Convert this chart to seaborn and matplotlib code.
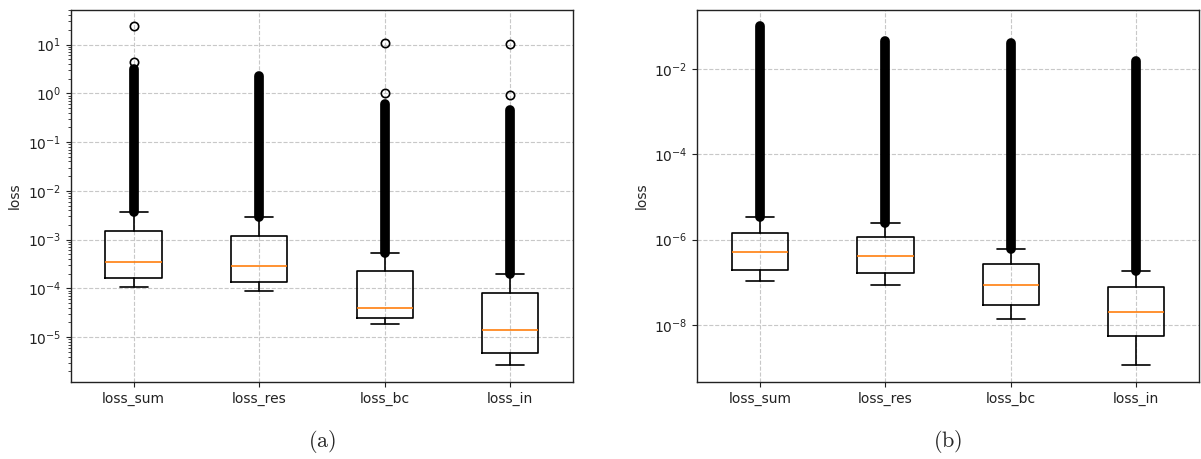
import matplotlib
matplotlib.use("Agg")
import matplotlib.pyplot as plt
import matplotlib.ticker as mticker
import seaborn as sns

# Loss terms on the x axis
categories = ["loss_sum", "loss_res", "loss_bc", "loss_in"]

# Panel (a): box statistics per loss term
a_whislo = [1.05e-4, 8.7e-5, 1.82e-5, 2.65e-6]
a_q1 = [1.62e-4, 1.33e-4, 2.5e-5, 4.8e-6]
a_med = [3.47e-4, 2.88e-4, 3.9e-5, 1.41e-5]
a_q3 = [1.53e-3, 1.21e-3, 2.27e-4, 8.2e-5]
a_whishi = [3.77e-3, 2.92e-3, 5.4e-4, 1.96e-4]
# upper end of the dense run of outliers above each whisker
a_dense_top = [3.1, 2.3, 0.61, 0.46]
# isolated outliers beyond the dense run
a_outliers = [[4.4, 23.5], [], [1.02, 11.0], [0.93, 10.5]]

# Panel (b): box statistics per loss term
b_whislo = [1.07e-7, 8.6e-8, 1.38e-8, 1.13e-9]
b_q1 = [1.94e-7, 1.64e-7, 3.0e-8, 5.5e-9]
b_med = [5.2e-7, 4.2e-7, 8.4e-8, 2.06e-8]
b_q3 = [1.46e-6, 1.13e-6, 2.67e-7, 7.8e-8]
b_whishi = [3.4e-6, 2.45e-6, 6.0e-7, 1.84e-7]
b_dense_top = [0.099, 0.046, 0.040, 0.0157]
b_outliers = [[], [], [], []]

panel_labels = ["(a)", "(b)"]

sns.set_style("ticks", {"axes.grid": True,
                        "grid.linestyle": "--",
                        "grid.color": "#c8c8c8",
                        "axes.edgecolor": "#222222"})
plt.rcParams["font.family"] = ["DejaVu Sans"]
plt.rcParams["mathtext.fontset"] = "cm"

fig = plt.figure(figsize=(12.01, 4.59), dpi=100)
ax_a = fig.add_axes([0.0591, 0.1672, 0.4180, 0.8121])
ax_b = fig.add_axes([0.5806, 0.1672, 0.4177, 0.8121])


def draw_panel(ax, whislo, q1, med, q3, whishi, dense_top, outliers, label):
    stats = []
    for i, name in enumerate(categories):
        stats.append(dict(label=name, whislo=whislo[i], q1=q1[i], med=med[i],
                          q3=q3[i], whishi=whishi[i], fliers=outliers[i]))
    positions = list(range(1, len(categories) + 1))
    # dense outlier runs drawn as a solid stroke of flier-sized dots
    for x, lo, hi in zip(positions, whishi, dense_top):
        ax.plot([x, x], [lo, hi], color="black", lw=7.0,
                solid_capstyle="round", zorder=1.5)
    ax.bxp(stats, positions=positions,
           boxprops=dict(color="black", lw=1.2),
           whiskerprops=dict(color="black", lw=1.2),
           capprops=dict(color="black", lw=1.2),
           medianprops=dict(color="#ff7f0e", lw=1.2),
           flierprops=dict(marker="o", markerfacecolor="none",
                           markeredgecolor="black", markersize=6,
                           markeredgewidth=1.2))
    ax.set_yscale("log")
    ax.set_ylabel("loss", fontsize=10)
    ax.tick_params(axis="both", labelsize=10, colors="#222222")
    ax.grid(True, which="major", linestyle="--", color="#c8c8c8", lw=0.8)
    ax.grid(False, which="minor")
    for s in ax.spines.values():
        s.set_visible(True)
        s.set_color("#222222")
        s.set_linewidth(1.0)
    box = ax.get_position()
    fig.text(box.x0 + box.width * 0.5, 0.038, r"$\mathrm{" + label + "}$",
             ha="center", va="center", fontsize=16)


draw_panel(ax_a, a_whislo, a_q1, a_med, a_q3, a_whishi, a_dense_top,
           a_outliers, panel_labels[0])
draw_panel(ax_b, b_whislo, b_q1, b_med, b_q3, b_whishi, b_dense_top,
           b_outliers, panel_labels[1])

# panel (b) spans more decades: label every second one, no minor ticks
ax_b.set_yticks([1e-2, 1e-4, 1e-6, 1e-8])
ax_b.yaxis.set_major_formatter(mticker.LogFormatterSciNotation(base=10.0))
ax_b.yaxis.set_minor_locator(mticker.NullLocator())

fig.savefig("out.png", dpi=100, facecolor="white")
